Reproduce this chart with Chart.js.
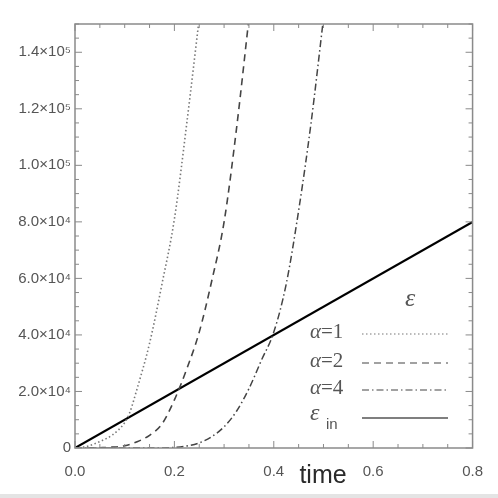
<!DOCTYPE html>
<html>
<head>
<meta charset="utf-8">
<script src="https://cdn.jsdelivr.net/npm/chart.js@4.4.0/dist/chart.umd.min.js"></script>
<style>
  body { margin: 0; background: #e4e4e4; }
  #wrap { width: 498px; height: 494px; background: #fff; }
</style>
</head>
<body>
<div id="wrap"><canvas id="chart" width="498" height="494"></canvas></div>
<script>
// Data (time vs energy)
const tAlpha1 = [0, 0.025, 0.05, 0.075, 0.1, 0.11, 0.125, 0.15, 0.175, 0.2, 0.225, 0.25];
const vAlpha1 = [0, 600, 2300, 4600, 9000, 12500, 21000, 37000, 58000, 81000, 115000, 152000];

const tAlpha2 = [0, 0.03, 0.05, 0.075, 0.1, 0.125, 0.15, 0.175, 0.2, 0.225, 0.25, 0.275, 0.3, 0.325, 0.35];
const vAlpha2 = [0, 0, 100, 300, 800, 2200, 4500, 8500, 17000, 28000, 41000, 59000, 80000, 113000, 152000];

const tAlpha4 = [0, 0.15, 0.2, 0.225, 0.25, 0.275, 0.3, 0.325, 0.35, 0.375, 0.4, 0.425, 0.45, 0.475, 0.5];
const vAlpha4 = [0, 0, 200, 700, 1800, 4000, 7500, 13000, 21000, 31000, 41000, 58000, 84000, 115000, 152000];

const tInput = [0, 0.8];
const vInput = [0, 80000];

const xTicks = [0, 0.2, 0.4, 0.6, 0.8];
const yTicks = [0, 20000, 40000, 60000, 80000, 100000, 120000, 140000];
const yLabels = ['0', '2.0×10⁴', '4.0×10⁴', '6.0×10⁴', '8.0×10⁴', '1.0×10⁵', '1.2×10⁵', '1.4×10⁵'];

function pairs(xs, ys) {
    return xs.map((x, i) => ({ x: x, y: ys[i] }));
}

const axisGray = '#8a8a8a';
const serif = '"Liberation Serif", "DejaVu Serif", "Times New Roman", serif';

// Inward tick marks on all four sides, plus axis title and in-plot legend
const framePlugin = {
    id: 'frame',
    afterDraw(chart) {
        const ctx = chart.ctx;
        const a = chart.chartArea;
        const xs = chart.scales.x;
        const ys = chart.scales.y;
        ctx.save();
        ctx.strokeStyle = axisGray;
        ctx.lineWidth = 1.5;
        ctx.strokeRect(a.left, a.top, a.right - a.left, a.bottom - a.top);
        ctx.lineWidth = 1;
        for (let v = 0; v <= 0.8001; v += 0.05) {
            const major = Math.abs(v / 0.2 - Math.round(v / 0.2)) < 1e-6;
            const len = major ? 7 : 4;
            const px = xs.getPixelForValue(v);
            ctx.beginPath();
            ctx.moveTo(px, a.bottom); ctx.lineTo(px, a.bottom - len);
            ctx.moveTo(px, a.top); ctx.lineTo(px, a.top + len);
            ctx.stroke();
        }
        for (let v = 0; v <= 150000; v += 5000) {
            const major = v % 20000 === 0;
            const len = major ? 7 : 4;
            const py = ys.getPixelForValue(v);
            ctx.beginPath();
            ctx.moveTo(a.left, py); ctx.lineTo(a.left + len, py);
            ctx.moveTo(a.right, py); ctx.lineTo(a.right - len, py);
            ctx.stroke();
        }

        // axis title
        ctx.fillStyle = '#2a2a2a';
        ctx.font = '25px "Liberation Sans", Arial, sans-serif';
        ctx.textAlign = 'center';
        ctx.textBaseline = 'middle';
        ctx.fillText('time', 323, 476);

        // legend
        ctx.fillStyle = '#555';
        ctx.font = 'italic 26px ' + serif;
        ctx.fillText('ε', 410, 299);

        const rows = [
            { y: 332, label: '1', ds: 0 },
            { y: 361, label: '2', ds: 1 },
            { y: 388, label: '4', ds: 2 },
            { y: 416, label: null, ds: 3 }
        ];
        rows.forEach(r => {
            ctx.textAlign = 'left';
            ctx.fillStyle = '#555';
            if (r.label) {
                ctx.font = 'italic 21px ' + serif;
                ctx.fillText('α', 310, r.y);
                const w = ctx.measureText('α').width;
                ctx.font = '21px ' + serif;
                ctx.fillText('=' + r.label, 310 + w, r.y);
            } else {
                ctx.font = 'italic 24px ' + serif;
                ctx.fillText('ε', 310, r.y - 2);
                ctx.font = '15px "Liberation Sans", Arial, sans-serif';
                ctx.fillText('in', 326, r.y + 9);
            }
            const ds = chart.data.datasets[r.ds];
            ctx.strokeStyle = ds.borderColor;
            ctx.lineWidth = 1.2;
            ctx.setLineDash(ds.borderDash || []);
            ctx.beginPath();
            ctx.moveTo(362, r.y + 2);
            ctx.lineTo(448, r.y + 2);
            ctx.stroke();
            ctx.setLineDash([]);
        });
        ctx.restore();
    }
};

const ctx = document.getElementById('chart').getContext('2d');

new Chart(ctx, {
    type: 'line',
    data: {
        datasets: [
            {
                label: 'α=1',
                data: pairs(tAlpha1, vAlpha1),
                borderColor: '#777',
                borderWidth: 1.6,
                borderDash: [1.5, 2.5],
                pointRadius: 0,
                cubicInterpolationMode: 'monotone'
            },
            {
                label: 'α=2',
                data: pairs(tAlpha2, vAlpha2),
                borderColor: '#444',
                borderWidth: 1.6,
                borderDash: [7, 5],
                pointRadius: 0,
                cubicInterpolationMode: 'monotone'
            },
            {
                label: 'α=4',
                data: pairs(tAlpha4, vAlpha4),
                borderColor: '#444',
                borderWidth: 1.5,
                borderDash: [7, 3, 1.5, 3],
                pointRadius: 0,
                cubicInterpolationMode: 'monotone'
            },
            {
                label: 'ε in',
                data: pairs(tInput, vInput),
                borderColor: '#000',
                borderWidth: 2.2,
                pointRadius: 0
            }
        ]
    },
    options: {
        responsive: false,
        animation: false,
        layout: {
            padding: { top: 24, right: 25, left: 0, bottom: 0 }
        },
        scales: {
            x: {
                type: 'linear',
                min: 0,
                max: 0.8,
                afterBuildTicks: function(scale) {
                    scale.ticks = xTicks.map(v => ({ value: v }));
                },
                afterFit: function(scale) {
                    scale.height = 46;
                },
                grid: { display: false, drawTicks: false },
                border: { display: false },
                ticks: {
                    color: '#555',
                    padding: 15,
                    maxRotation: 0,
                    font: { size: 15, family: '"Liberation Sans", Arial, sans-serif' },
                    callback: function(value) {
                        return value.toFixed(1);
                    }
                }
            },
            y: {
                type: 'linear',
                min: 0,
                max: 150000,
                afterBuildTicks: function(scale) {
                    scale.ticks = yTicks.map(v => ({ value: v }));
                },
                afterFit: function(scale) {
                    scale.width = 75;
                },
                grid: { display: false, drawTicks: false },
                border: { display: false },
                ticks: {
                    color: '#555',
                    padding: 4,
                    font: { size: 15, family: '"Liberation Sans", Arial, sans-serif' },
                    callback: function(value) {
                        const i = yTicks.indexOf(value);
                        return i >= 0 ? yLabels[i] : '';
                    }
                }
            }
        },
        plugins: {
            legend: { display: false },
            tooltip: { enabled: false }
        }
    },
    plugins: [framePlugin]
});
</script>
</body>
</html>
